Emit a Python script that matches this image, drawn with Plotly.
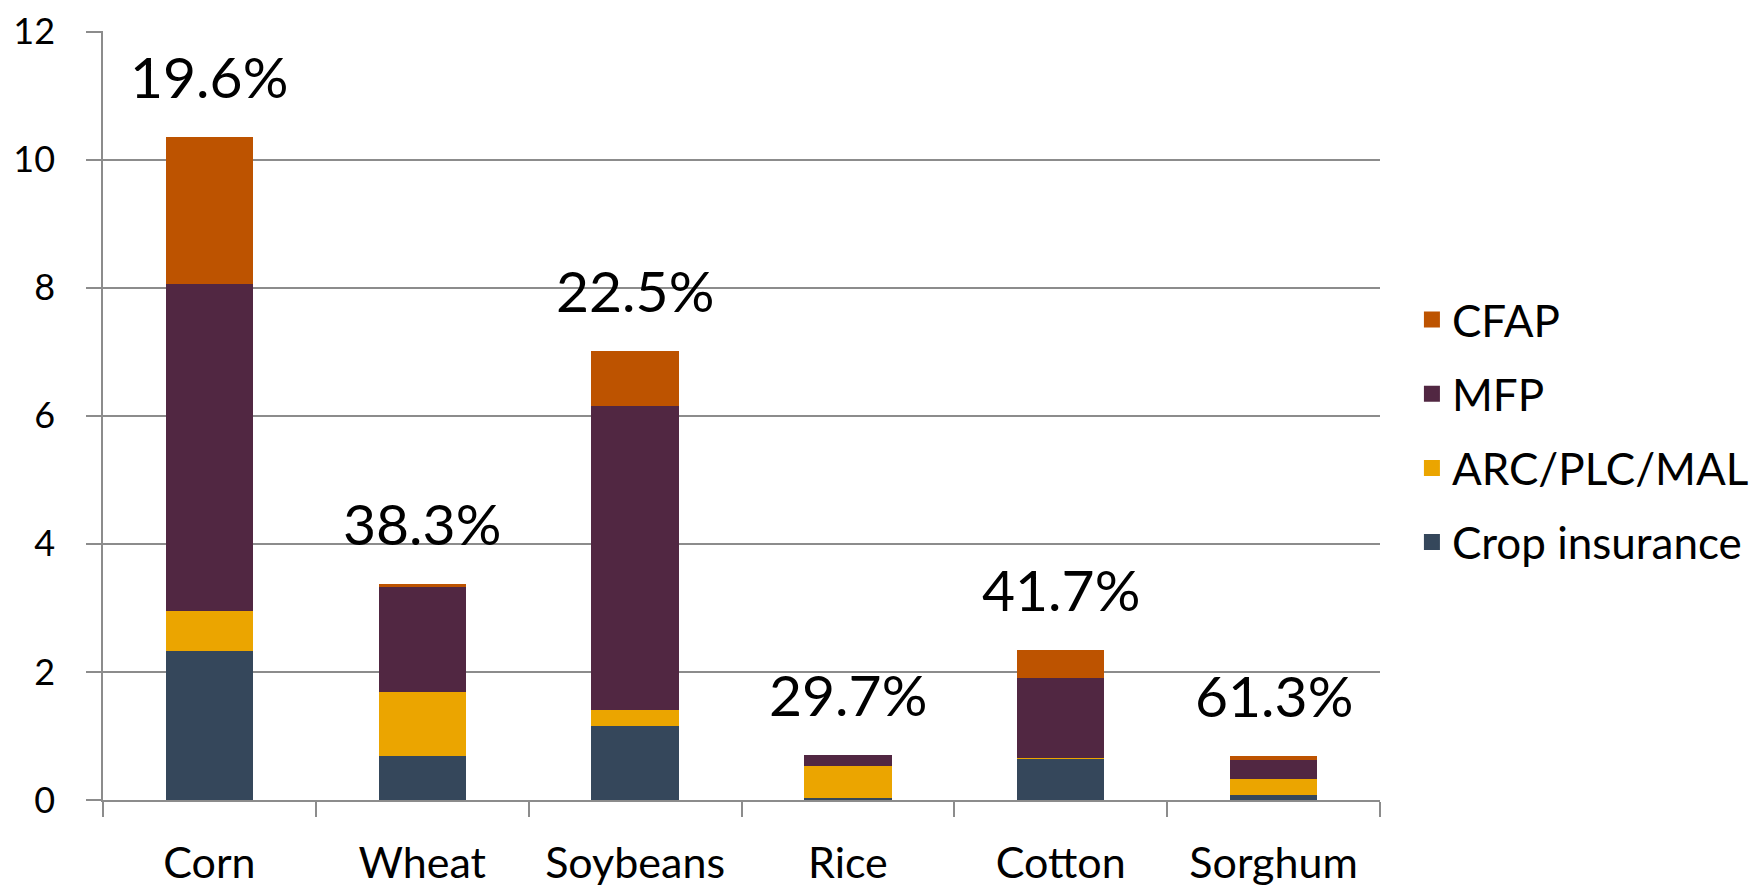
import plotly.graph_objects as go

crops = ['Corn', 'Wheat', 'Soybeans', 'Rice', 'Cotton', 'Sorghum']
crop_insurance = [2.33, 0.68, 1.16, 0.03, 0.65, 0.08]
arc_plc_mal = [0.62, 1.01, 0.24, 0.50, 0.01, 0.25]
mfp = [5.11, 1.64, 4.76, 0.17, 1.24, 0.30]
cfap = [2.30, 0.05, 0.85, 0.00, 0.45, 0.06]
share_labels = ['19.6%', '38.3%', '22.5%', '29.7%', '41.7%', '61.3%']

FONT = 'Lato'
GRID = '#8c8c8c'

series = [
    ('Crop insurance', crop_insurance, '#35475b'),
    ('ARC/PLC/MAL', arc_plc_mal, '#eba500'),
    ('MFP', mfp, '#512742'),
    ('CFAP', cfap, '#bd5300'),
]

fig = go.Figure()
for i, (name, vals, col) in enumerate(series):
    fig.add_trace(go.Bar(x=crops, y=vals, name=name, marker_color=col,
                         marker_line_width=0, showlegend=False))
    # bigger legend squares than the bar default, CFAP on top
    fig.add_trace(go.Scatter(x=[None], y=[None], mode='markers', name=name,
                             legendgroup=name, legendrank=100 - i,
                             marker=dict(symbol='square', size=16, color=col)))

totals = [a + b + c + d for a, b, c, d in zip(crop_insurance, arc_plc_mal, mfp, cfap)]
annots = []
for crop, tot, lab in zip(crops, totals, share_labels):
    annots.append(dict(x=crop, y=tot + 0.95, text=lab, showarrow=False,
                       font=dict(family=FONT, size=57, color='black')))

# page body adds 8px, so margins are shifted to compensate
fig.update_layout(
    barmode='stack', bargap=0.59,
    width=1762, height=887,
    margin=dict(l=95, r=390, t=23, b=95),
    plot_bgcolor='white', paper_bgcolor='white',
    font=dict(family=FONT, size=40, color='black'),
    annotations=annots,
    legend=dict(x=1.025, y=0.48, yanchor='middle', xanchor='left',
                traceorder='grouped', tracegroupgap=14,
                font=dict(family=FONT, size=44), itemwidth=30),
)
fig.update_xaxes(showline=True, linecolor=GRID, linewidth=1.5, automargin=False,
                 ticks='outside', tickson='boundaries', ticklen=15,
                 tickcolor=GRID, tickwidth=1.5, ticklabelstandoff=25,
                 tickfont=dict(size=43))
fig.update_yaxes(range=[0, 12.01], tickvals=[0, 2, 4, 6, 8, 10, 12],
                 showgrid=True, gridcolor=GRID,
                 gridwidth=1.5, showline=True, linecolor=GRID, linewidth=1.5,
                 ticks='outside', ticklen=15, tickcolor=GRID, tickwidth=1.5,
                 ticklabelstandoff=24, zeroline=False, automargin=False,
                 ticklabeloverflow='allow', tickfont=dict(size=36))

fig.write_html("out.html")
